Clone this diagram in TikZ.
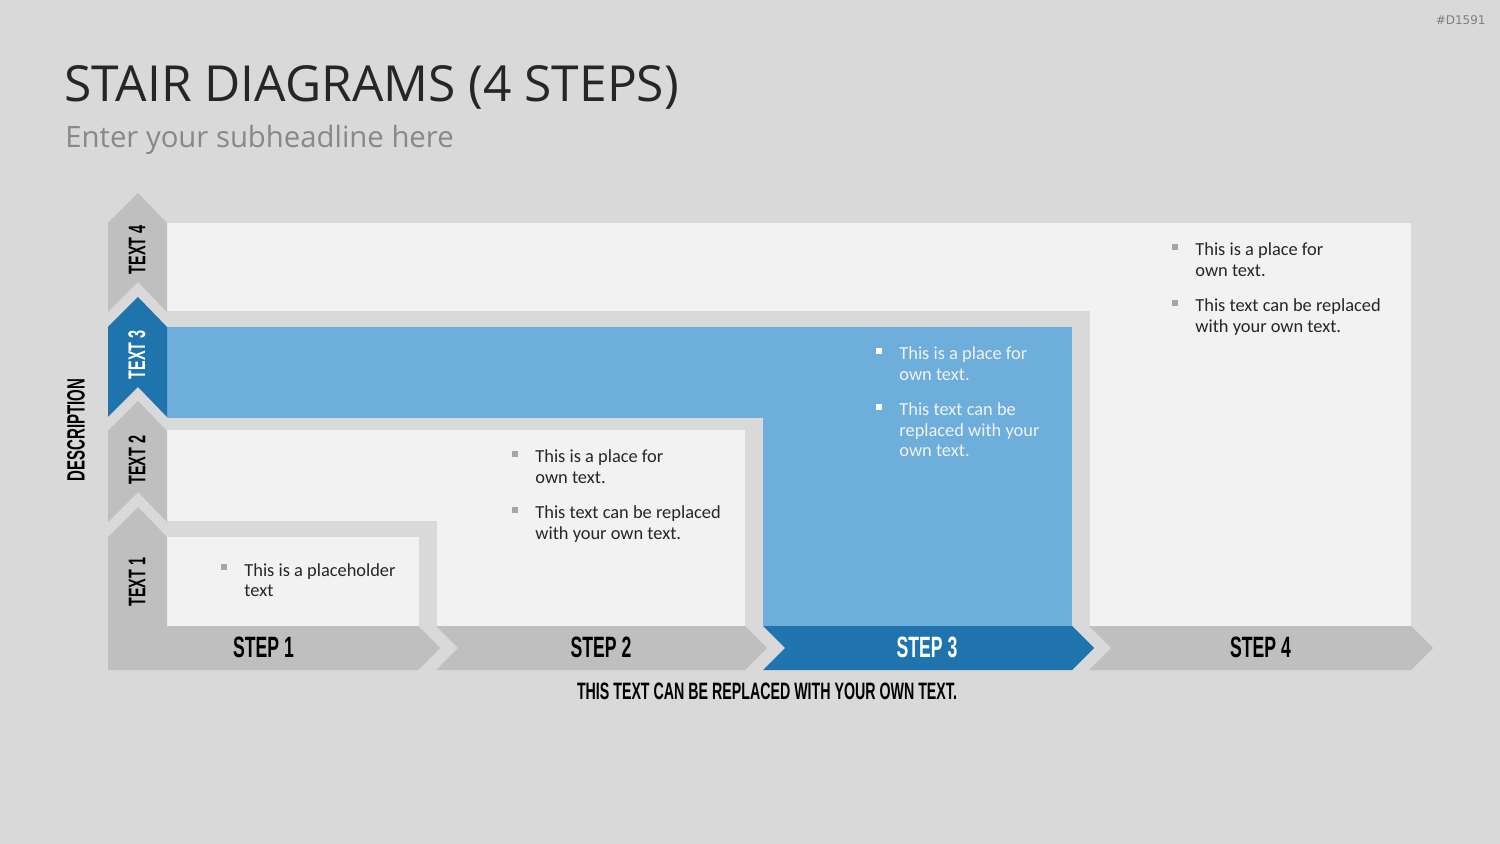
\documentclass[tikz,border=0pt]{standalone}
\usepackage{fontspec}
\setmainfont{Carlito}
\newfontfamily\titlefont{Open Sans}
\newfontfamily\idfont{DejaVu Sans}
\newfontfamily\bebas[FakeStretch=0.6]{Liberation Sans Bold}
\definecolor{bg}{HTML}{D9D9D9}
\definecolor{panel}{HTML}{F2F2F2}
\definecolor{lblue}{HTML}{6DAEDB}
\definecolor{dblue}{HTML}{1F74AD}
\definecolor{arrowgray}{HTML}{BFBFBF}
\definecolor{titlec}{HTML}{262626}
\definecolor{subc}{HTML}{888888}
\definecolor{bodyc}{HTML}{262626}
\definecolor{bulc}{HTML}{A6A6A6}
\definecolor{idc}{HTML}{7F7F7F}
\tikzset{
  panelbox/.style={fill=panel, draw=none},
  gapbox/.style={fill=bg, draw=none},
  grayshape/.style={fill=arrowgray, draw=none},
  blueshape/.style={fill=dblue, draw=none},
  steplbl/.style={inner sep=0, font=\bebas\fontsize{14.7}{15}\selectfont, text=black},
  collbl/.style={inner sep=0, rotate=90, font=\bebas\fontsize{12}{13}\selectfont, text=black},
  item/.style={anchor=base west, align=left, inner sep=0, font=\fontsize{9.2}{10.25}\selectfont, text=bodyc},
  witem/.style={item, text=panel},
  bul/.style={fill=bulc, draw=none, minimum size=2.7pt, inner sep=0},
  wbul/.style={bul, fill=white}
}
\begin{document}
\begin{tikzpicture}[x=0.5pt,y=-0.5pt]
\fill[bg] (0,0) rectangle (1500,844);
\useasboundingbox (0,0) rectangle (1500,844);

% header
\node[anchor=base west, inner sep=0, font=\titlefont\fontsize{24.85}{26}\selectfont, text=titlec] (title) at (64,102) {STAIR DIAGRAMS (4 STEPS)};
\node[anchor=base west, inner sep=0, font=\titlefont\fontsize{14.65}{16}\selectfont, text=subc] (subtitle) at (65,148) {Enter your subheadline here};
\node[anchor=east, inner sep=0, font=\idfont\fontsize{6}{7}\selectfont, text=idc] (id) at (1486,20) {\#D1591};

% stair panels
\fill[panelbox] (167,223) rectangle (1411,626);
\fill[gapbox] (167,311) rectangle (1090,626);
\fill[lblue] (167,327) rectangle (1072,626);
\fill[gapbox] (167,418) rectangle (763,626);
\fill[panelbox] (167,430) rectangle (745,626);
\fill[gapbox] (167,521) rectangle (437,626);
\fill[panelbox] (167,537) rectangle (419,626);

% left column chevrons
\fill[grayshape] (108,312) -- (108,223) -- (138,193) -- (167,223) -- (167,312) -- (138,282) -- cycle;
\fill[blueshape] (108,417) -- (108,327) -- (138,297) -- (167,327) -- (167,417) -- (138,387) -- cycle;
\fill[grayshape] (108,522) -- (108,431) -- (138,401) -- (167,431) -- (167,522) -- (138,492) -- cycle;
% text 1 column + step 1
\fill[grayshape] (108,670) -- (108,537) -- (138,507) -- (167,537) -- (167,626) -- (418,626) -- (440,648) -- (418,670) -- cycle;
% step arrows
\fill[grayshape] (436,626) -- (745,626) -- (767,648) -- (745,670) -- (436,670) -- (458,648) -- cycle;
\fill[blueshape] (763,626) -- (1072,626) -- (1094,648) -- (1072,670) -- (763,670) -- (785,648) -- cycle;
\fill[grayshape] (1089,626) -- (1411,626) -- (1433,648) -- (1411,670) -- (1089,670) -- (1111,648) -- cycle;

% labels
\node[steplbl] (s1) at (263.5,647) {STEP 1};
\node[steplbl] (s2) at (601,647) {STEP 2};
\node[steplbl, text=white] (s3) at (927,647) {STEP 3};
\node[steplbl] (s4) at (1260.5,647) {STEP 4};

\node[collbl] (t4) at (137,250) {TEXT 4};
\node[collbl, text=white] (t3) at (137,355) {TEXT 3};
\node[collbl] (t2) at (137,460) {TEXT 2};
\node[collbl] (t1) at (137,582) {TEXT 1};

\node[collbl, font=\bebas\fontsize{12.5}{13}\selectfont] (desc) at (76,430) {DESCRIPTION};
\node[inner sep=0, font=\bebas\fontsize{11.85}{13}\selectfont, text=black] (foot) at (767,691.5) {THIS TEXT CAN BE REPLACED WITH YOUR OWN TEXT.};

% bullet texts (node base = baseline of last line)
\node[item] (p1a) at (244,596.5) {This is a placeholder\\text};
\node[bul] (b1a) at ([shift={(-20,-29.5)}]p1a.base west) {};

\node[item] (p2a) at (535,483.5) {This is a place for\\own text.};
\node[bul] (b2a) at ([shift={(-20,-29.5)}]p2a.base west) {};
\node[item] (p2b) at (535,539.5) {This text can be replaced\\with your own text.};
\node[bul] (b2b) at ([shift={(-20,-29.5)}]p2b.base west) {};

\node[witem] (p3a) at (899,380.5) {This is a place for\\own text.};
\node[wbul] (b3a) at ([shift={(-20,-29.5)}]p3a.base west) {};
\node[witem] (p3b) at (899,457) {This text can be\\replaced with your\\own text.};
\node[wbul] (b3b) at ([shift={(-20,-50)}]p3b.base west) {};

\node[item] (p4a) at (1195,276.5) {This is a place for\\own text.};
\node[bul] (b4a) at ([shift={(-20,-29.5)}]p4a.base west) {};
\node[item] (p4b) at (1195,332.5) {This text can be replaced\\with your own text.};
\node[bul] (b4b) at ([shift={(-20,-29.5)}]p4b.base west) {};
\end{tikzpicture}
\end{document}
